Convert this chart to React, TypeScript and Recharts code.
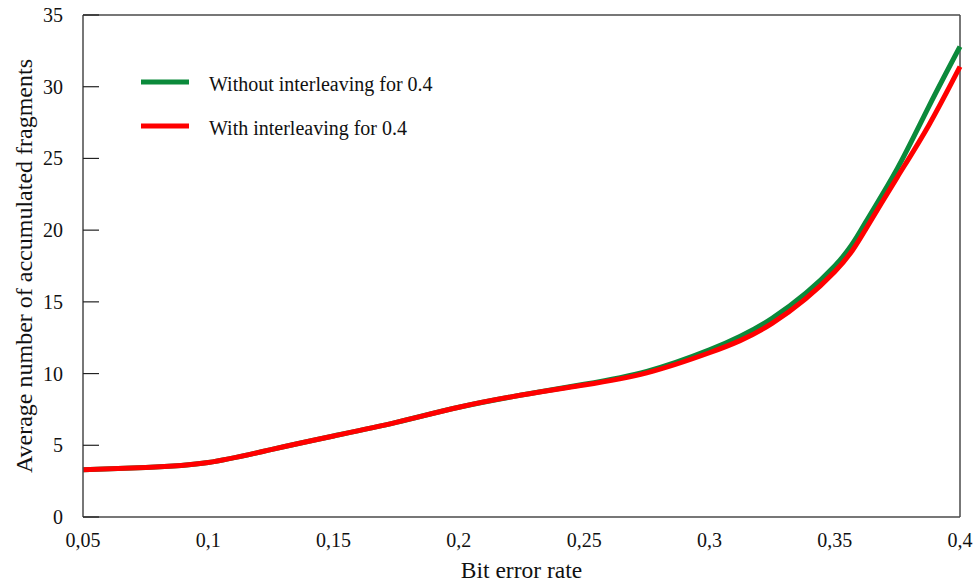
import React from "react";
import { LineChart, Line, XAxis, YAxis, ReferenceLine, Legend, Label } from "recharts";

const berValues = [0.05, 0.075, 0.1, 0.125, 0.15, 0.175, 0.2, 0.225, 0.25, 0.275, 0.3, 0.325, 0.35, 0.3625, 0.375, 0.3875, 0.4];
const withoutInterleaving = [3.3, 3.45, 3.8, 4.7, 5.65, 6.6, 7.65, 8.5, 9.25, 10.15, 11.65, 13.85, 17.5, 20.6, 24.3, 28.6, 32.8];
const withInterleaving = [3.3, 3.45, 3.8, 4.7, 5.65, 6.6, 7.65, 8.5, 9.2, 10.05, 11.45, 13.5, 17.1, 20.1, 23.7, 27.3, 31.4];
const xTicks = [0.05, 0.1, 0.15, 0.2, 0.25, 0.3, 0.35, 0.4];
const yTicks = [0, 5, 10, 15, 20, 25, 30, 35];
const seriesNames = ["Without interleaving for 0.4", "With interleaving for 0.4"];
const xTitle = "Bit error rate";
const yTitle = "Average number of accumulated fragments";

const data = berValues.map((b, i) => ({ ber: b, without: withoutInterleaving[i], with: withInterleaving[i] }));

const FONT = "'Liberation Serif', 'Times New Roman', serif";
const AXIS = "#4a4a4a";

const fmt = (v: number) => String(v).replace(".", ",");

const YTick = (props: any) => {
  const { x, y, payload } = props;
  return (
    <g>
      <line x1={x} x2={x + 16} y1={y} y2={y} stroke="#222" strokeWidth={1.2} />
      <text x={x - 20} y={y} dy="0.35em" textAnchor="end" fontFamily={FONT} fontSize={20} fill="#111">
        {payload.value}
      </text>
    </g>
  );
};

const XTick = (props: any) => {
  const { x, y, payload } = props;
  return (
    <text x={x} y={y + 30} textAnchor="middle" fontFamily={FONT} fontSize={20} fill="#111">
      {fmt(payload.value)}
    </text>
  );
};

const renderLegend = (props: any) => {
  const payload = [...(props.payload || [])].sort(
    (a: any, b: any) => seriesNames.indexOf(a.value) - seriesNames.indexOf(b.value)
  );
  return (
    <div style={{ fontFamily: FONT, fontSize: 20, color: "#111" }}>
      {payload.map((p: any, i: number) => (
        <div key={i} style={{ display: "flex", alignItems: "center", height: 44 }}>
          <svg width={48} height={6} style={{ display: "block" }}>
            <line x1={0} x2={48} y1={3} y2={3} stroke={p.color} strokeWidth={5} />
          </svg>
          <span style={{ marginLeft: 20, whiteSpace: "nowrap", lineHeight: "20px", paddingTop: 3 }}>{p.value}</span>
        </div>
      ))}
    </div>
  );
};

export default function App() {
  return (
    <div style={{ position: "absolute", left: 0, top: 0, width: 976, height: 585, background: "#fff" }}>
      <LineChart width={976} height={585} data={data} margin={{ top: 15, right: 16, bottom: 0, left: 0 }}>
        <XAxis
          dataKey="ber"
          type="number"
          domain={[0.05, 0.4]}
          ticks={xTicks}
          height={68}
          tickLine={false}
          tickSize={0}
          tickMargin={0}
          tick={<XTick />}
          stroke={AXIS}
          strokeWidth={1.5}
          interval={0}
        >
          <Label
            content={(p: any) => {
              const vb = p.viewBox;
              return (
                <text x={vb.x + vb.width / 2} y={vb.y + 61} textAnchor="middle" fontFamily={FONT} fontSize={23.5} fill="#111">
                  {xTitle}
                </text>
              );
            }}
          />
        </XAxis>
        <YAxis
          type="number"
          domain={[0, 35]}
          ticks={yTicks}
          width={83}
          tickLine={false}
          tickSize={0}
          tickMargin={0}
          tick={<YTick />}
          stroke={AXIS}
          strokeWidth={1.5}
          interval={0}
        >
          <Label
            content={(p: any) => {
              const vb = p.viewBox;
              const cx = vb.x + 23.5;
              const cy = vb.y + vb.height / 2;
              return (
                <text
                  x={cx}
                  y={cy}
                  transform={`rotate(-90 ${cx} ${cy})`}
                  textAnchor="middle"
                  dominantBaseline="central"
                  fontFamily={FONT}
                  fontSize={24}
                  fill="#111"
                >
                  {yTitle}
                </text>
              );
            }}
          />
        </YAxis>
        <ReferenceLine y={35} stroke={AXIS} strokeWidth={1.5} />
        <ReferenceLine x={0.4} stroke={AXIS} strokeWidth={1.5} />
        <Legend
          layout="vertical"
          align="center"
          verticalAlign="middle"
          content={renderLegend}
          wrapperStyle={{ position: "absolute", left: 141, top: 60, width: "auto" }}
        />
        <Line
          type="natural"
          dataKey="without"
          name={seriesNames[0]}
          stroke="#0b8a3b"
          strokeWidth={5}
          dot={false}
          activeDot={false}
          isAnimationActive={false}
        />
        <Line
          type="natural"
          dataKey="with"
          name={seriesNames[1]}
          stroke="#ff0000"
          strokeWidth={5}
          dot={false}
          activeDot={false}
          isAnimationActive={false}
        />
      </LineChart>
    </div>
  );
}
